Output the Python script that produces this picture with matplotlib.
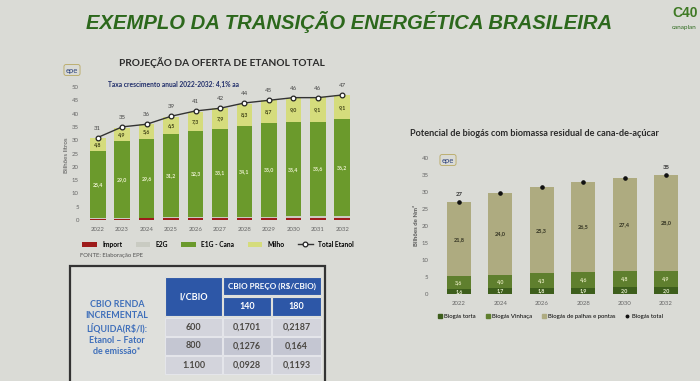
import matplotlib
matplotlib.use("Agg")
import matplotlib.pyplot as plt
from matplotlib.patches import Rectangle
from matplotlib.lines import Line2D
import numpy as np

W, H = 700, 381
BG = "#dadbd6"
plt.rcParams['font.family'] = ['Lato', 'DejaVu Sans']

# --- etanol: projecao da oferta (bilhoes de litros)
anos_etanol = ["2022", "2023", "2024", "2025", "2026", "2027", "2028", "2029", "2030", "2031", "2032"]
importacao = [0.3, 0.3, 0.7, 0.8, 0.8, 0.8, 0.8, 0.8, 0.8, 0.8, 0.8]
e2g = [0.3, 0.5, 0.2, 0.3, 0.3, 0.3, 0.5, 0.5, 0.6, 0.6, 0.8]
e1g_cana = [25.4, 29.0, 29.6, 31.2, 32.3, 33.1, 34.1, 35.0, 35.4, 35.6, 36.2]
milho = [4.8, 4.9, 5.6, 6.5, 7.3, 7.9, 8.3, 8.7, 9.0, 9.1, 9.1]
total_etanol = [31, 35, 36, 39, 41, 42, 44, 45, 46, 46, 47]

# --- biogas (bilhoes de Nm3)
anos_biogas = ["2022", "2024", "2026", "2028", "2030", "2032"]
biogas_torta = [1.6, 1.7, 1.8, 1.9, 2.0, 2.0]
biogas_vinhaca = [3.6, 4.0, 4.3, 4.6, 4.8, 4.9]
biogas_palhas = [21.8, 24.0, 25.3, 26.5, 27.4, 28.0]
biogas_total = [27.0, 29.7, 31.4, 33.0, 34.2, 34.9]
rotulos_total_biogas = ["27", "", "", "", "", "35"]

# --- tabela CBIO
cbio_fatores = ["600", "800", "1.100"]
precos_cbio = ["140", "180"]
renda_140 = ["0,1701", "0,1276", "0,0928"]
renda_180 = ["0,2187", "0,164", "0,1193"]


def br(v):
    return f"{v:.1f}".replace(".", ",")


def px_axes(l, t, r, b):
    return fig.add_axes([l / W, 1 - b / H, (r - l) / W, (b - t) / H])


fig = plt.figure(figsize=(7, 3.81), dpi=100, facecolor=BG)

# overlay in pixel coordinates for titles, logos and table
ov = fig.add_axes([0, 0, 1, 1])
ov.set_xlim(0, W)
ov.set_ylim(H, 0)
ov.axis("off")

ov.text(349, 22, "EXEMPLO DA TRANSIÇÃO ENERGÉTICA BRASILEIRA", ha="center", va="center",
        fontsize=14.6, fontweight="bold", fontstyle="italic", color="#2c681c",
        family="Liberation Sans")
ov.text(672, 13, "C40", ha="left", va="center", fontsize=10, fontweight="bold", color="#3f7a25",
        family="Liberation Sans")
ov.text(672, 28, "canaplan", ha="left", va="center", fontsize=4.6, color="#2f6b1f")

# ---------------- left chart ----------------
ov.text(222, 63, "PROJEÇÃO DA OFERTA DE ETANOL TOTAL", ha="center", va="center",
        fontsize=7.3, fontweight="bold", color="#2b2b2b")
ov.text(72, 70, "epe", ha="center", va="center", fontsize=5.5, color="#2a3f7a",
        bbox=dict(boxstyle="round,pad=0.25", fc="none", ec="#b8a860", lw=0.6))
ov.text(108, 84, "Taxa crescimento anual 2022-2032: 4,1% aa", ha="left", va="center",
        fontsize=4.8, fontweight="bold", color="#1f2d6a")
ov.text(67, 155, "Bilhões litros", rotation=90, ha="center", va="center", fontsize=4.5, color="#555555")
ov.text(80, 256, "FONTE: Elaboração EPE", ha="left", va="center", fontsize=4.3, color="#555555")

ax1 = px_axes(83, 87, 357, 220)
ax1.set_facecolor("none")
x1 = np.arange(len(anos_etanol))
bw = 0.64
h_imp = ax1.bar(x1, importacao, bw, color="#9e1b1b", label="Import")
bot = np.array(importacao)
h_e2g = ax1.bar(x1, e2g, bw, bottom=bot, color="#c9cbc2", label="E2G")
bot = bot + np.array(e2g)
h_e1g = ax1.bar(x1, e1g_cana, bw, bottom=bot, color="#6b9a2c", label="E1G - Cana")
for xi, b, v in zip(x1, bot, e1g_cana):
    ax1.text(xi, b + v / 2, br(v), ha="center", va="center", fontsize=3.8, color="#eef3d2",
             fontweight="bold")
bot = bot + np.array(e1g_cana)
h_mil = ax1.bar(x1, milho, bw, bottom=bot, color="#d5dc7c", label="Milho")
for xi, b, v in zip(x1, bot, milho):
    ax1.text(xi, b + v / 2, br(v), ha="center", va="center", fontsize=3.8, color="#3e4015",
             fontweight="bold")
h_tot, = ax1.plot(x1, total_etanol, color="#333333", lw=1.0, marker="o", ms=3.4, mfc="white",
                  mec="#222222", mew=0.9, label="Total Etanol")
for xi, v in zip(x1, total_etanol):
    ax1.annotate(str(v), (xi, v), xytext=(0, 5), textcoords="offset points", ha="center",
                 va="bottom", fontsize=4.3, color="#444444")
ax1.set_xlim(-0.6, 10.6)
ax1.set_ylim(0, 50)
ax1.set_yticks(range(0, 51, 5))
ax1.set_xticks(x1)
ax1.set_xticklabels(anos_etanol)
ax1.tick_params(axis="both", length=0, labelsize=4.3, labelcolor="#666666")
ax1.tick_params(axis="x", pad=5)
ax1.tick_params(axis="y", pad=3)
for s in ax1.spines.values():
    s.set_visible(False)
ax1.legend([h_imp, h_e2g, h_e1g, h_mil, h_tot], ["Import", "E2G", "E1G - Cana", "Milho", "Total Etanol"],
           loc="center", bbox_to_anchor=(218 / W, 1 - 244 / H), bbox_transform=fig.transFigure,
           ncol=5, frameon=False, handlelength=2.2, handleheight=0.7,
           columnspacing=2.0, prop={"weight": "bold", "size": 4.8})

# ---------------- right chart ----------------
ov.text(410, 134, "Potencial de biogás com biomassa residual de cana-de-açúcar", ha="left",
        va="center", fontsize=6.6, fontweight="bold", color="#2b2b2b")
ov.text(448, 160, "epe", ha="center", va="center", fontsize=5.5, color="#2a3f7a",
        bbox=dict(boxstyle="round,pad=0.25", fc="none", ec="#b8a860", lw=0.6))
ov.text(417, 226, "Bilhões de Nm³", rotation=90, ha="center", va="center", fontsize=4.3,
        color="#555555", fontweight="bold")

ax2 = px_axes(434, 158, 691, 294)
ax2.set_facecolor("none")
x2 = np.arange(len(anos_biogas))
bw2 = 0.58
ax2.bar(x2, biogas_torta, bw2, color="#3d5e1c", label="Biogás torta")
for xi, v in zip(x2, biogas_torta):
    ax2.text(xi, v / 2, br(v), ha="center", va="center", fontsize=3.8, color="#e8efd0",
             fontweight="bold")
bot2 = np.array(biogas_torta)
ax2.bar(x2, biogas_vinhaca, bw2, bottom=bot2, color="#5f7f2e", label="Biogás Vinhaça")
for xi, b, v in zip(x2, bot2, biogas_vinhaca):
    ax2.text(xi, b + v / 2, br(v), ha="center", va="center", fontsize=3.8, color="#dfe5b8",
             fontweight="bold")
bot2 = bot2 + np.array(biogas_vinhaca)
ax2.bar(x2, biogas_palhas, bw2, bottom=bot2, color="#aeab80", label="Biogás de palhas e pontas")
for xi, b, v in zip(x2, bot2, biogas_palhas):
    ax2.text(xi, b + v / 2, br(v), ha="center", va="center", fontsize=4.0, color="#333322",
             fontweight="bold")
ax2.plot(x2, biogas_total, linestyle="none", marker="o", ms=2.3, color="#111111",
         label="Biogás total")
for xi, v, t in zip(x2, biogas_total, rotulos_total_biogas):
    if t:
        ax2.annotate(t, (xi, v), xytext=(0, 4), textcoords="offset points", ha="center",
                     va="bottom", fontsize=4.3, color="#333333", fontweight="bold")
ax2.set_xlim(-0.6, 5.6)
ax2.set_ylim(0, 40)
ax2.set_yticks(range(0, 41, 5))
ax2.set_xticks(x2)
ax2.set_xticklabels(anos_biogas)
ax2.tick_params(axis="both", length=0, labelsize=4.3, labelcolor="#666666")
ax2.tick_params(axis="x", pad=5)
ax2.tick_params(axis="y", pad=4)
for s in ax2.spines.values():
    s.set_visible(False)
hnd = [Line2D([], [], ls="none", marker="s", ms=2.6, color=c) for c in ("#3d5e1c", "#5f7f2e", "#aeab80")]
hnd.append(Line2D([], [], ls="none", marker="o", ms=1.8, color="#111111"))
ax2.legend(hnd, ["Biogás torta", "Biogás Vinhaça", "Biogás de palhas e pontas", "Biogás total"],
           loc="center", bbox_to_anchor=(550 / W, 1 - 316 / H), bbox_transform=fig.transFigure,
           ncol=4, frameon=False, handlelength=0.8, handletextpad=0.3,
           columnspacing=1.6, prop={"size": 4.3})

# ---------------- CBIO table ----------------
ov.add_patch(Rectangle((70, 266), 255, 130, fc="#dfe0dc", ec="#333333", lw=1.6))
ov.text(117, 328, "CBIO RENDA\nINCREMENTAL\nLÍQUIDA(R$/l):\nEtanol – Fator\nde emissão*",
        ha="center", va="center", fontsize=6.4, fontweight="bold", color="#3f6fba",
        linespacing=1.3)
blue = "#2d57a7"
ov.add_patch(Rectangle((165, 277), 57, 39, fc=blue, ec="#dfe0dc", lw=0.8))
ov.text(193.5, 297, "l/CBIO", ha="center", va="center", fontsize=6.6, fontweight="bold", color="white")
ov.add_patch(Rectangle((223, 277), 98, 18, fc=blue, ec="#dfe0dc", lw=0.8))
ov.text(272, 286, "CBIO PREÇO (R$/CBIO)", ha="center", va="center", fontsize=5.9,
        fontweight="bold", color="white")
col_x = [(165, 57), (223, 48), (272, 49)]
for (cx, cw), p in zip(col_x[1:], precos_cbio):
    ov.add_patch(Rectangle((cx, 297), cw, 19, fc=blue, ec="#dfe0dc", lw=0.8))
    ov.text(cx + cw / 2, 306.5, p, ha="center", va="center", fontsize=6.4, fontweight="bold",
            color="white")
for i, row in enumerate(zip(cbio_fatores, renda_140, renda_180)):
    ry = 318 + i * 19
    fc = "#c4c6d2" if i == 1 else "#d3d4dc"
    for (cx, cw), val in zip(col_x, row):
        ov.add_patch(Rectangle((cx, ry), cw, 18, fc=fc, ec="#e4e5ea", lw=0.8))
        ov.text(cx + cw / 2, ry + 9, val, ha="center", va="center", fontsize=6.4,
                fontweight="bold", color="#4b4843")

fig.savefig("out.png", dpi=100, facecolor=BG)
